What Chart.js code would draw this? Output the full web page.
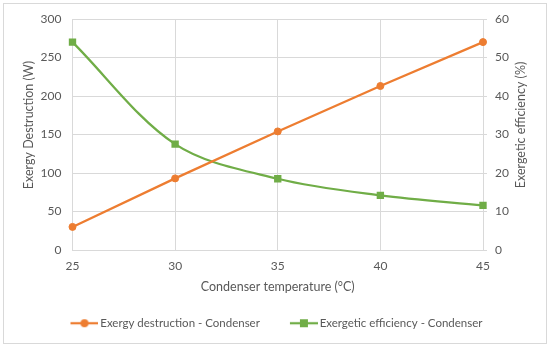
<!DOCTYPE html>
<html>
<head>
<meta charset="utf-8">
<script src="https://cdn.jsdelivr.net/npm/chart.js@4"></script>
<style>
  html, body { margin: 0; padding: 0; background: #fff; }
</style>
</head>
<body>
<canvas id="chart" width="550" height="348"></canvas>
<script>
// data
const temps = ['25', '30', '35', '40', '45'];
const destruction = [30, 93, 154, 213, 270];
const efficiency = [54, 27.5, 18.5, 14.2, 11.6];
const leftRange = [0, 300, 50];
const rightRange = [0, 60, 10];

const FONT = 'Lato, "Open Sans", sans-serif';
const TXT = '#595959';
const GRID = '#d9d9d9';
const ORANGE = '#ED7D31';
const GREEN = '#70AD47';

// legend mark: short line with the marker on it
function legendMark(color, shape) {
    const c = document.createElement('canvas');
    c.width = 52; c.height = 12;
    const g = c.getContext('2d');
    g.strokeStyle = color; g.lineWidth = 2.25;
    g.beginPath(); g.moveTo(24, 6); g.lineTo(52, 6); g.stroke();
    g.fillStyle = color;
    if (shape === 'circle') { g.beginPath(); g.arc(38, 6, 4, 0, Math.PI * 2); g.fill(); }
    else g.fillRect(34, 2, 8, 8);
    return c;
}
const marks = [legendMark(ORANGE, 'circle'), legendMark(GREEN, 'rect')];

const frame = {
    id: 'frame',
    beforeDraw(chart) {
        const ctx = chart.ctx;
        ctx.save();
        ctx.fillStyle = '#fff';
        ctx.fillRect(0, 0, chart.width, chart.height);
        ctx.strokeStyle = GRID; ctx.lineWidth = 1;
        ctx.strokeRect(3.5, 3.5, 543, 340);
        ctx.restore();
    },
    afterDraw(chart) {
        const ctx = chart.ctx;
        ctx.save();
        ctx.fillStyle = TXT;
        ctx.font = '12.5px ' + FONT;
        ctx.textAlign = 'center'; ctx.textBaseline = 'middle';
        // both axis titles read bottom to top
        [[29, 'Exergy Destruction (W)'], [521, 'Exergetic efficiency (%)']].forEach(([x, t]) => {
            ctx.save();
            ctx.translate(x, 125);
            ctx.rotate(-Math.PI / 2);
            ctx.fillText(t, 0, 0);
            ctx.restore();
        });
        ctx.restore();
    }
};

new Chart(document.getElementById('chart'), {
    type: 'line',
    data: {
        labels: temps,
        datasets: [
            {
                label: 'Exergy destruction - Condenser', data: destruction, yAxisID: 'y',
                borderColor: ORANGE, backgroundColor: ORANGE, borderWidth: 2.25,
                pointStyle: 'circle', pointRadius: 3.5, pointBorderWidth: 1, tension: 0
            },
            {
                label: 'Exergetic efficiency - Condenser', data: efficiency, yAxisID: 'y1',
                borderColor: GREEN, backgroundColor: GREEN, borderWidth: 2.25,
                pointStyle: 'rect', pointRadius: 5.2, pointBorderWidth: 0, tension: 0.33
            }
        ]
    },
    options: {
        responsive: false,
        animation: false,
        layout: { padding: { top: 19, right: 17, bottom: 9, left: 0 } },
        plugins: {
            tooltip: { enabled: false },
            legend: {
                position: 'bottom',
                labels: {
                    usePointStyle: true, pointStyleWidth: 44, padding: 10,
                    color: TXT, font: { family: FONT, size: 11.5 },
                    generateLabels(chart) {
                        const items = Chart.defaults.plugins.legend.labels.generateLabels(chart);
                        items.forEach((it, i) => { it.pointStyle = marks[i]; });
                        return items;
                    }
                }
            }
        },
        scales: {
            x: {
                type: 'category', offset: false,
                grid: { color: GRID, drawTicks: false, offset: false },
                border: { color: GRID },
                ticks: { padding: 9, color: TXT, font: { family: FONT, size: 12 } },
                title: {
                    display: true, text: 'Condenser temperature (°C)', color: TXT,
                    font: { family: FONT, size: 12.5 }, padding: { top: 0, bottom: 13 }
                },
                afterFit: s => { s.height = 57.5; }
            },
            y: {
                position: 'left', min: leftRange[0], max: leftRange[1],
                grid: { color: GRID, drawTicks: false },
                border: { color: GRID },
                ticks: { stepSize: leftRange[2], padding: 11, color: TXT, font: { family: FONT, size: 12 } },
                afterFit: s => { s.width = 72.5; }
            },
            y1: {
                position: 'right', min: rightRange[0], max: rightRange[1],
                grid: { color: GRID, drawOnChartArea: false, drawTicks: true, tickLength: 4 },
                border: { color: GRID },
                ticks: { stepSize: rightRange[2], padding: 8, color: TXT, font: { family: FONT, size: 12 } },
                afterFit: s => { s.width = 50; }
            }
        }
    },
    plugins: [frame]
});
</script>
</body>
</html>
